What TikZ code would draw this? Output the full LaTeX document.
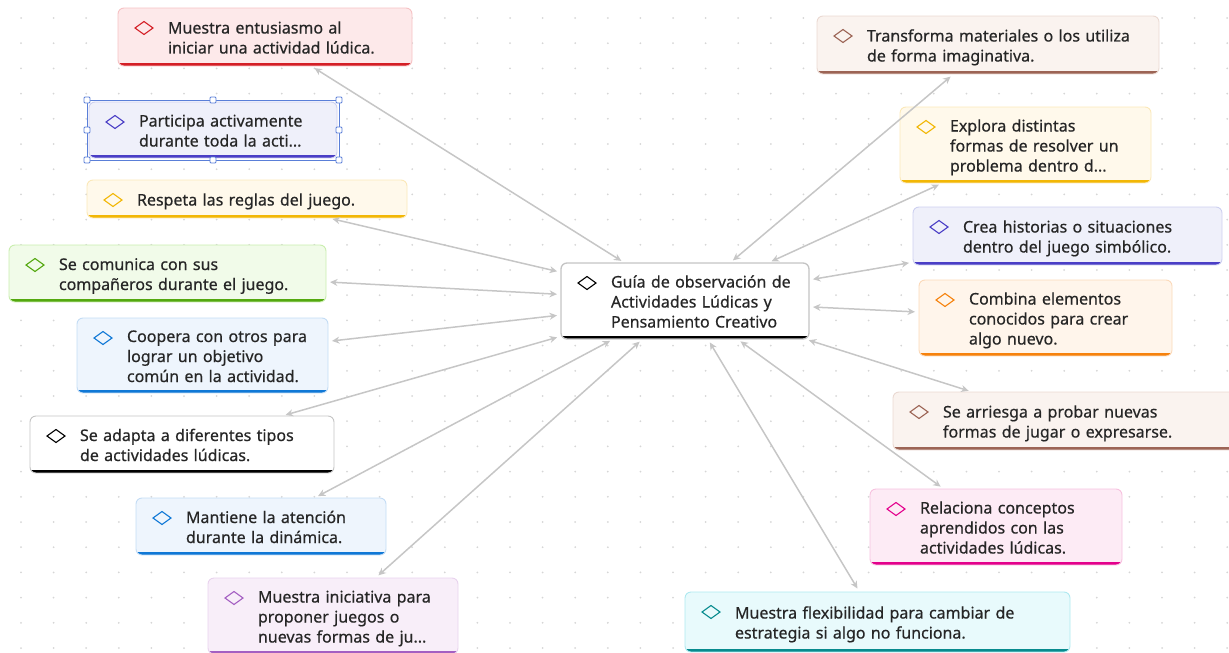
\documentclass[tikz,border=0pt]{standalone}
\usepackage{fontspec}
\setmainfont{Noto Sans}
\newfontfamily\cardfamily{Noto Sans}[FakeBold=0.5]
\usepackage{tikz}
\usetikzlibrary{arrows.meta}
\usetikzlibrary{positioning}

\definecolor{txt}{HTML}{262626}
\definecolor{dotgray}{HTML}{D6D6D6}
\definecolor{linkgray}{HTML}{C6C6C6}
\definecolor{selblue}{HTML}{5A7FD8}
% accent / fill / border of each card colour
\definecolor{redA}{HTML}{D41F26}\definecolor{redF}{HTML}{FDE9EA}\definecolor{redB}{HTML}{F6C2C4}
\definecolor{indA}{HTML}{4A3EC6}\definecolor{indF}{HTML}{EFF0FA}\definecolor{indB}{HTML}{CDD0F0}
\definecolor{yelA}{HTML}{F2B705}\definecolor{yelF}{HTML}{FFF9EB}\definecolor{yelB}{HTML}{FBE8B8}
\definecolor{grnA}{HTML}{54A80F}\definecolor{grnF}{HTML}{F1FBE9}\definecolor{grnB}{HTML}{C9EEAE}
\definecolor{bluA}{HTML}{1078D6}\definecolor{bluF}{HTML}{EEF5FD}\definecolor{bluB}{HTML}{C3DCF5}
\definecolor{blkA}{HTML}{000000}\definecolor{blkF}{HTML}{FFFFFF}\definecolor{blkB}{HTML}{C4C4C4}
\definecolor{purA}{HTML}{A45FC2}\definecolor{purF}{HTML}{F8EEF9}\definecolor{purB}{HTML}{E8D2EE}
\definecolor{brnA}{HTML}{9C6455}\definecolor{brnF}{HTML}{FAF3EF}\definecolor{brnB}{HTML}{EAD9D2}
\definecolor{orgA}{HTML}{F6820D}\definecolor{orgF}{HTML}{FFF5EB}\definecolor{orgB}{HTML}{FBD9B9}
\definecolor{pnkA}{HTML}{E3008C}\definecolor{pnkF}{HTML}{FDEBF5}\definecolor{pnkB}{HTML}{F7C1DF}
\definecolor{tealA}{HTML}{078B8E}\definecolor{tealF}{HTML}{E8FAFC}\definecolor{tealB}{HTML}{AEE9F0}

\newcommand{\ctext}[1]{\raisebox{-2.5pt}[\height][\depth]{\begin{tabular}{@{\hspace{50pt}}l@{}}#1\end{tabular}}}

\tikzset{
	card/.style={rectangle, rounded corners=6pt, anchor=north west, inner sep=0pt, outer sep=0pt,
		align=left, line width=0.9pt, fill=#1F, draw=#1B, text=txt,
		font=\cardfamily\fontsize{16}{20}\selectfont,
		path picture={
			\fill[#1A, sharp corners] ([yshift=3.5pt]path picture bounding box.south west) rectangle (path picture bounding box.south east);
			\draw[#1A, sharp corners, line width=1.1pt, line join=miter] ([shift={(26pt,-20pt)}]path picture bounding box.north west)
				+(-9pt,0) -- +(0,6.5pt) -- +(9pt,0) -- +(0,-6.5pt) -- cycle;
		}},
	link/.style={draw=linkgray, line width=1.5pt, shorten <=4pt, shorten >=4pt,
		{Stealth[length=7.5pt,width=7pt]}-{Stealth[length=7.5pt,width=7pt]}},
	handle/.style={draw=selblue, fill=white, line width=0.8pt, minimum size=6pt, inner sep=0pt, rectangle, rounded corners=1pt}
}

\begin{document}
\begin{tikzpicture}[x=1pt, y=-1pt]
		\useasboundingbox (0,0) rectangle (1229,653);
		
		% dotted canvas
		\foreach \i in {0,...,37}
			\foreach \j in {0,...,25}
				\fill[dotgray] (21+32.6*\i, 18+25.2*\j) circle (1pt);
		
		\node[card=blk, line width=1.3pt, text width=248pt, minimum height=76pt] (guia) at (561,263) {\ctext{Guía de observación de\\Actividades Lúdicas y\\Pensamiento Creativo}};
		
		% left side
		\node[card=red, text width=294pt, minimum height=58pt] (entusiasmo) at (118,8) {\ctext{Muestra entusiasmo al\\iniciar una actividad lúdica.}};
		\node[card=ind, text width=248pt, minimum height=56pt] (participa) at (89,102) {\ctext{Participa activamente\\durante toda la acti...}};
		\node[card=yel, text width=320pt, minimum height=38pt] (reglas) at (87,180) {\ctext{Respeta las reglas del juego.}};
		\node[card=grn, text width=317pt, minimum height=57pt] (comunica) at (9,245) {\ctext{Se comunica con sus\\compañeros durante el juego.}};
		\node[card=blu, text width=251pt, minimum height=75pt] (coopera) at (77,318) {\ctext{Coopera con otros para\\lograr un objetivo\\común en la actividad.}};
		\node[card=blk, text width=304pt, minimum height=57pt] (adapta) at (30,416) {\ctext{Se adapta a diferentes tipos\\de actividades lúdicas.}};
		\node[card=blu, text width=250pt, minimum height=57pt] (atencion) at (136,498) {\ctext{Mantiene la atención\\durante la dinámica.}};
		\node[card=pur, text width=250pt, minimum height=76pt] (iniciativa) at (208,578) {\ctext{Muestra iniciativa para\\proponer juegos o\\nuevas formas de ju...}};
		
		% right side
		\node[card=brn, text width=342pt, minimum height=58pt] (transforma) at (817,16) {\ctext{Transforma materiales o los utiliza\\de forma imaginativa.}};
		\node[card=yel, text width=251pt, minimum height=76pt] (explora) at (900,107) {\ctext{Explora distintas\\formas de resolver un\\problema dentro d...}};
		\node[card=ind, text width=309pt, minimum height=58pt] (historias) at (913,207) {\ctext{Crea historias o situaciones\\dentro del juego simbólico.}};
		\node[card=org, text width=253pt, minimum height=76pt] (combina) at (919,280) {\ctext{Combina elementos\\conocidos para crear\\algo nuevo.}};
		\node[card=brn, text width=342pt, minimum height=58pt] (arriesga) at (893,392) {\ctext{Se arriesga a probar nuevas\\formas de jugar o expresarse.}};
		\node[card=pnk, text width=252pt, minimum height=76pt] (relaciona) at (870,489) {\ctext{Relaciona conceptos\\aprendidos con las\\actividades lúdicas.}};
		\node[card=teal, text width=385pt, minimum height=60pt] (flexibilidad) at (685,592) {\ctext{Muestra flexibilidad para cambiar de\\estrategia si algo no funciona.}};
		
		% selection frame
		\draw[selblue, line width=1pt] ([shift={(-2pt,2pt)}]participa.north west) rectangle ([shift={(2pt,-2pt)}]participa.south east);
		\foreach \a/\dx/\dy in {north west/-2/2, north/0/2, north east/2/2, east/2/0, south east/2/-2, south/0/-2, south west/-2/-2, west/-2/0}
			\node[handle] at ([shift={(\dx pt,\dy pt)}]participa.\a) {};
		
		% connectors
		\draw[link] (guia) -- (entusiasmo);
		\draw[link] (guia) -- (reglas);
		\draw[link] (guia) -- (comunica);
		\draw[link] (guia) -- (coopera);
		\draw[link] (guia) -- (adapta);
		\draw[link] (guia) -- (atencion);
		\draw[link] (guia) -- (iniciativa);
		\draw[link] (guia) -- (transforma);
		\draw[link] (guia) -- (explora);
		\draw[link] (guia) -- (historias);
		\draw[link] (guia) -- (combina);
		\draw[link] (guia) -- (arriesga);
		\draw[link] (guia) -- (relaciona);
		\draw[link] (guia) -- (flexibilidad);
\end{tikzpicture}
\end{document}
